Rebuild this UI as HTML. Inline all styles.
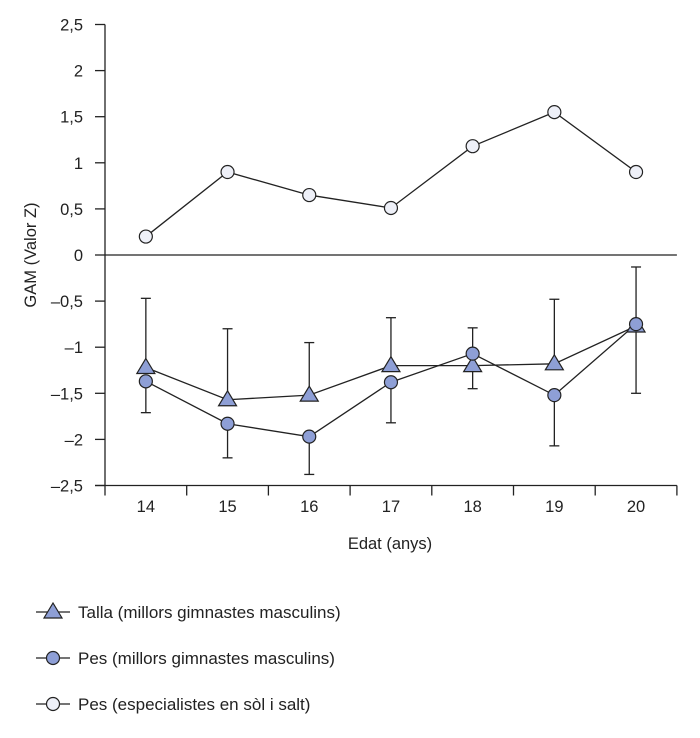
<!DOCTYPE html>
<html><head><meta charset="utf-8"><style>
body{margin:0;background:#fff;}
svg text{font-family:"Liberation Sans",sans-serif;fill:#222;}
</style></head><body>
<svg id="c" width="700" height="733" xmlns="http://www.w3.org/2000/svg"></svg>
<script>
const categories=["14","15","16","17","18","19","20"];
const yTicks=[2.5,2,1.5,1,0.5,0,-0.5,-1,-1.5,-2,-2.5];
const yTickLabels=["2,5","2","1,5","1","0,5","0","–0,5","–1","–1,5","–2","–2,5"];
const talla=[-1.22,-1.57,-1.52,-1.2,-1.2,-1.18,-0.77];
const tallaUpper=[-0.47,-0.8,-0.95,-0.68,-0.79,-0.48,-0.13];
const pes=[-1.37,-1.83,-1.97,-1.38,-1.07,-1.52,-0.75];
const pesLower=[-1.71,-2.2,-2.38,-1.82,-1.45,-2.07,-1.5];
const especialistes=[0.2,0.9,0.65,0.51,1.18,1.55,0.9];

const svg=document.getElementById('c');
const NS='http://www.w3.org/2000/svg';
const X0=105,STEP=81.7,Y0=255,UNIT=92.2;
function xs(i){return X0+STEP/2+STEP*i;}
function ys(v){return Y0-v*UNIT;}
function mk(tag,attrs,name,parent){const e=document.createElementNS(NS,tag);for(const k in attrs)e.setAttribute(k,attrs[k]);


(parent||svg).appendChild(e);return e;}
const stroke={stroke:'#222','stroke-width':1.3,fill:'none'};
mk('line',Object.assign({x1:X0,y1:ys(2.5),x2:X0,y2:ys(-2.5)},stroke),'y-axis');
mk('line',Object.assign({x1:X0-10,y1:ys(-2.5),x2:X0+STEP*7,y2:ys(-2.5)},stroke),'x-axis');
mk('line',Object.assign({x1:X0,y1:ys(0),x2:X0+STEP*7,y2:ys(0)},stroke),'zero-line');
yTicks.forEach((v,i)=>{
  mk('line',Object.assign({x1:X0-10,y1:ys(v),x2:X0,y2:ys(v)},stroke),'y-tick');
  const t=mk('text',{x:83,y:ys(v)+6,'text-anchor':'end','font-size':16.5},'y-tick-label');t.textContent=yTickLabels[i];
});
for(let i=0;i<=7;i++)mk('line',Object.assign({x1:X0+STEP*i,y1:ys(-2.5),x2:X0+STEP*i,y2:ys(-2.5)+10},stroke),'x-tick');
categories.forEach((c,i)=>{const t=mk('text',{x:xs(i),y:512,'text-anchor':'middle','font-size':16.5},'x-tick-label');t.textContent=c;});
let t=mk('text',{x:390,y:549,'text-anchor':'middle','font-size':16.5},'x-axis-title');t.textContent='Edat (anys)';
t=mk('text',{x:0,y:0,'text-anchor':'middle','font-size':16.5,transform:'translate(36,255) rotate(-90)'},'y-axis-title');t.textContent='GAM (Valor Z)';
categories.forEach((c,i)=>{
  const x=xs(i);
  mk('line',Object.assign({x1:x,y1:ys(talla[i]),x2:x,y2:ys(tallaUpper[i])},stroke),'talla-error-bar');
  mk('line',Object.assign({x1:x-5,y1:ys(tallaUpper[i]),x2:x+5,y2:ys(tallaUpper[i])},stroke),'talla-error-cap');
  mk('line',Object.assign({x1:x,y1:ys(pes[i]),x2:x,y2:ys(pesLower[i])},stroke),'pes-error-bar');
  mk('line',Object.assign({x1:x-5,y1:ys(pesLower[i]),x2:x+5,y2:ys(pesLower[i])},stroke),'pes-error-cap');
});
function line(arr,name){mk('polyline',Object.assign({points:arr.map((v,i)=>xs(i)+','+ys(v)).join(' ')},stroke),name);}
line(especialistes,'especialistes-line');line(talla,'talla-line');line(pes,'pes-line');
function tri(x,y,name,g){mk('polygon',{points:`${x},${y-9} ${x-9},${y+6} ${x+9},${y+6}`,fill:'#8e9fd6',stroke:'#222','stroke-width':1.2},name,g);}
function circ(x,y,fill,name,g){mk('circle',{cx:x,cy:y,r:6.5,fill:fill,stroke:'#222','stroke-width':1.2},name,g);}
talla.forEach((v,i)=>tri(xs(i),ys(v),'talla-point'));
pes.forEach((v,i)=>circ(xs(i),ys(v),'#8e9fd6','pes-point'));
especialistes.forEach((v,i)=>circ(xs(i),ys(v),'#eef0f8','especialistes-point'));
const leg=[{y:612,label:'Talla (millors gimnastes masculins)',m:'t'},{y:658,label:'Pes (millors gimnastes masculins)',m:'c'},{y:704,label:'Pes (especialistes en sòl i salt)',m:'o'}];
leg.forEach(l=>{
  const g=mk('g',{},'legend-entry');
  mk('line',Object.assign({x1:36,y1:l.y,x2:70,y2:l.y},stroke),'legend-line',g);
  if(l.m==='t')tri(53,l.y,'legend-marker',g);else circ(53,l.y,l.m==='c'?'#8e9fd6':'#eef0f8','legend-marker',g);
  const tt=mk('text',{x:78,y:l.y+6,'font-size':17},'legend-label',g);tt.textContent=l.label;
});
</script>
</body></html>
